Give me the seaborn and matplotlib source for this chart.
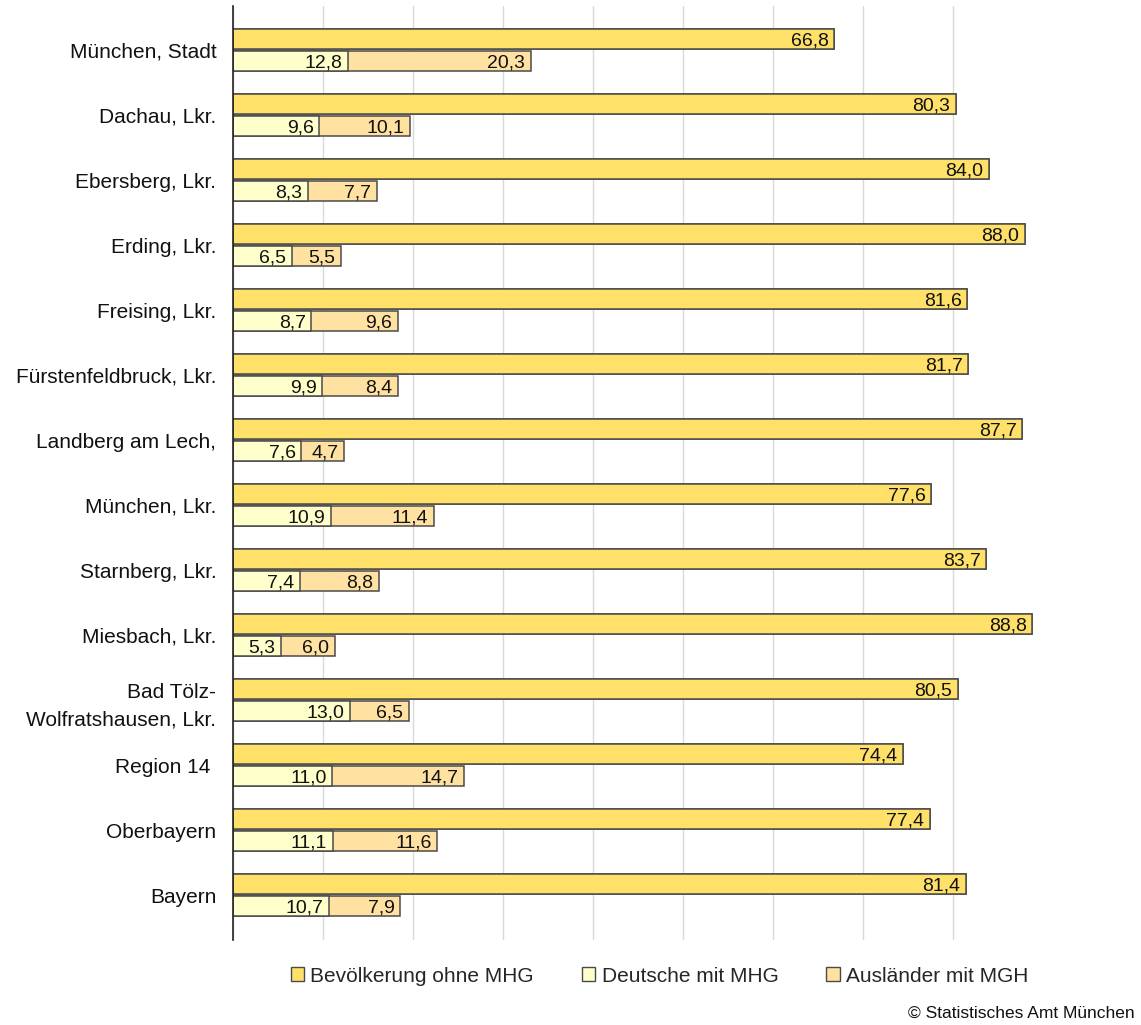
import matplotlib
matplotlib.use("Agg")
import matplotlib.pyplot as plt
from matplotlib.patches import Patch
import seaborn as sns
import pandas as pd
import numpy as np

categories = ["München, Stadt", "Dachau, Lkr.", "Ebersberg, Lkr.", "Erding, Lkr.",
              "Freising, Lkr.", "Fürstenfeldbruck, Lkr.", "Landberg am Lech,",
              "München, Lkr.", "Starnberg, Lkr.", "Miesbach, Lkr.",
              "Bad Tölz-\nWolfratshausen, Lkr.", "Region 14 ", "Oberbayern", "Bayern"]
ohne_mhg = [66.8, 80.3, 84.0, 88.0, 81.6, 81.7, 87.7, 77.6, 83.7, 88.8, 80.5, 74.4, 77.4, 81.4]
deutsche_mhg = [12.8, 9.6, 8.3, 6.5, 8.7, 9.9, 7.6, 10.9, 7.4, 5.3, 13.0, 11.0, 11.1, 10.7]
auslaender_mgh = [20.3, 10.1, 7.7, 5.5, 9.6, 8.4, 4.7, 11.4, 8.8, 6.0, 6.5, 14.7, 11.6, 7.9]
series_names = ["Bevölkerung ohne MHG", "Deutsche mit MHG", "Ausländer mit MGH"]

c_ohne = "#FFE169"
c_deut = "#FFFFCC"
c_ausl = "#FFE1A2"
edge = "#4a4a4a"

sns.set_theme(style="white")
plt.rcParams['font.family'] = ['Liberation Sans', 'DejaVu Sans']

fig = plt.figure(figsize=(11.41, 10.25), dpi=100)
ax = fig.add_axes([233/1141, 1 - 940/1025, (1043 - 233)/1141, (940 - 6)/1025])

total_mhg = [d + a for d, a in zip(deutsche_mhg, auslaender_mgh)]
df1 = pd.DataFrame({
    "cat": categories * 2,
    "val": ohne_mhg + total_mhg,
    "ser": ["ohne"] * len(categories) + ["mhg"] * len(categories),
})
df2 = pd.DataFrame({
    "cat": categories * 2,
    "val": ohne_mhg + deutsche_mhg,
    "ser": ["ohne"] * len(categories) + ["deut"] * len(categories),
})

common = dict(y="cat", x="val", orient="h", order=categories, width=0.69, gap=0.12,
              linewidth=1.1, edgecolor=edge, legend=False, saturation=1, errorbar=None)
sns.barplot(data=df1, hue="ser", hue_order=["ohne", "mhg"],
            palette={"ohne": c_ohne, "mhg": c_ausl}, ax=ax, **common)
sns.barplot(data=df2, hue="ser", hue_order=["ohne", "deut"],
            palette={"ohne": c_ohne, "deut": c_deut}, ax=ax, **common)

# containers: 0 ohne(1), 1 total mhg, 2 ohne(2), 3 deutsche
fs_val = 14
def label(container, values):
    for bar, v in zip(container.patches, values):
        xe = bar.get_x() + bar.get_width()
        yc = bar.get_y() + bar.get_height() / 2
        ax.annotate(f"{v:.1f}".replace(".", ","), xy=(xe, yc), xytext=(-4, 0),
                    textcoords="offset points", ha="right", va="center_baseline",
                    fontsize=fs_val, color="#111111")

label(ax.containers[2], ohne_mhg)
label(ax.containers[1], auslaender_mgh)
label(ax.containers[3], deutsche_mhg)

ax.set_xlim(0, 90)
ax.set_ylim(len(categories) - 1 + 0.69, -0.677)
ax.set_xticks(np.arange(0, 90, 10))
ax.set_xticklabels([])
ax.xaxis.grid(True, color="#d9d9d9", linewidth=1)
ax.yaxis.grid(False)
ax.set_axisbelow(True)
ax.set_xlabel("")
ax.set_ylabel("")
for s in ["top", "right", "bottom"]:
    ax.spines[s].set_visible(False)
ax.spines["left"].set_color("#222222")
ax.spines["left"].set_linewidth(1.2)
ax.tick_params(axis="both", length=0)
ax.tick_params(axis="y", pad=12, labelsize=15, labelcolor="#111111")
for t in ax.get_yticklabels():
    t.set_linespacing(1.55)

handles = [Patch(facecolor=c, edgecolor=edge, linewidth=1) for c in (c_ohne, c_deut, c_ausl)]
fig.legend(handles, series_names, loc="center", bbox_to_anchor=(0.578, 1 - 976/1025), ncol=3,
           frameon=False, fontsize=15, handlelength=0.65, handleheight=0.65,
           handletextpad=0.3, columnspacing=2.3)

fig.text(0.994, 1 - 1013/1025, "© Statistisches Amt München", ha="right", va="center",
         fontsize=12.5, color="#111111")

fig.savefig("out.png", dpi=100)
